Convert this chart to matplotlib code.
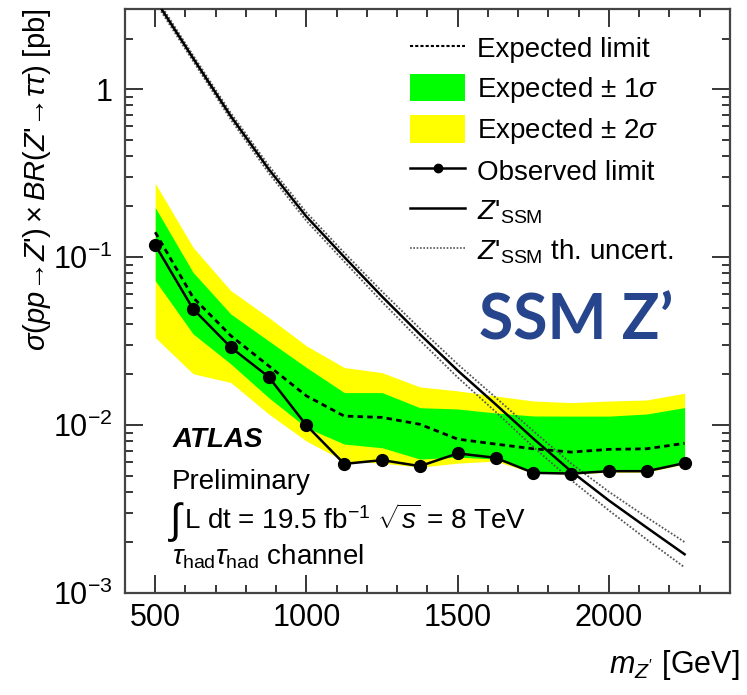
import matplotlib
matplotlib.use("Agg")
import matplotlib.pyplot as plt
from matplotlib.lines import Line2D
from matplotlib.patches import Patch
from matplotlib.ticker import FixedLocator, FixedFormatter, LogLocator, NullFormatter, MultipleLocator

plt.rcParams['font.family'] = ['Liberation Sans', 'DejaVu Sans']
plt.rcParams['mathtext.fontset'] = 'custom'
plt.rcParams['mathtext.rm'] = 'Liberation Sans'
plt.rcParams['mathtext.it'] = 'Liberation Sans:italic'
plt.rcParams['mathtext.bf'] = 'Liberation Sans:bold'

# Z' mass points (GeV)
mass = [500, 625, 750, 875, 1000, 1125, 1250, 1375, 1500, 1625, 1750, 1875, 2000, 2125, 2250]

observed = [0.118, 0.0491, 0.0290, 0.01935, 0.00995, 0.00587, 0.00618, 0.00569,
            0.00678, 0.00638, 0.00519, 0.00514, 0.00531, 0.00531, 0.00593]
expected = [0.1406, 0.0575, 0.0340, 0.0225, 0.0149, 0.0113, 0.0111, 0.0101,
            0.00824, 0.00770, 0.00722, 0.00690, 0.00716, 0.00722, 0.00778]
exp_p1 = [0.197, 0.0811, 0.0458, 0.0317, 0.0220, 0.0156, 0.0156, 0.01268,
          0.01246, 0.0118, 0.01132, 0.0113, 0.0113, 0.01163, 0.0127]
exp_m1 = [0.0724, 0.0349, 0.0231, 0.01456, 0.00964, 0.0077, 0.00732, 0.00627,
          0.00644, 0.00627, 0.00524, 0.00517, 0.00531, 0.00531, 0.00593]
exp_p2 = [0.275, 0.1144, 0.0631, 0.0437, 0.0296, 0.0220, 0.0205, 0.01686,
          0.01596, 0.0149, 0.0139, 0.0136, 0.0139, 0.0141, 0.01546]
exp_m2 = [0.0332, 0.0202, 0.0179, 0.01163, 0.00802, 0.0061, 0.00593, 0.00561,
          0.00593, 0.0061, 0.00517, 0.0051, 0.00524, 0.00524, 0.00585]

# SSM Z' theory cross section and its uncertainty
theory = [3.43, 1.53, 0.689, 0.334, 0.174, 0.100, 0.0582, 0.0347, 0.0211,
          0.0133, 0.0083, 0.0053, 0.00355, 0.00245, 0.0017]
theory_up = [3.57, 1.59, 0.72, 0.351, 0.184, 0.106, 0.0623, 0.0375, 0.0230,
             0.0146, 0.0092, 0.0059, 0.0040, 0.00282, 0.00201]
theory_dn = [3.29, 1.47, 0.658, 0.317, 0.164, 0.094, 0.0541, 0.0319, 0.0192,
             0.0120, 0.0074, 0.0047, 0.0031, 0.00208, 0.00142]

yticks = [1e-3, 1e-2, 1e-1, 1]
ytick_labels = ['$10^{-3}$', '$10^{-2}$', '$10^{-1}$', '1']
xticks = [500, 1000, 1500, 2000]

fig = plt.figure(figsize=(7.47, 6.95), dpi=100)
ax = fig.add_axes([0.1673, 0.1468, 0.8099, 0.8403])

ax.fill_between(mass, exp_m2, exp_p2, color='#ffff00', lw=0, zorder=1)
ax.fill_between(mass, exp_m1, exp_p1, color='#00ff00', lw=0, zorder=2)
ax.plot(mass, expected, color='black', ls=(0, (2, 1.5)), lw=2, zorder=3)
ax.plot(mass, theory_up, color='#555555', ls=(0, (1, 1)), lw=1.3, zorder=4)
ax.plot(mass, theory_dn, color='#555555', ls=(0, (1, 1)), lw=1.3, zorder=4)
ax.plot(mass, theory, color='black', lw=1.8, zorder=5)
ax.plot(mass, observed, color='black', lw=1.8, marker='o', ms=8.5, zorder=6)

ax.set_yscale('log')
ax.set_xlim(400, 2400)
ax.set_ylim(1e-3, 3)
ax.yaxis.set_major_locator(FixedLocator(yticks))
ax.yaxis.set_major_formatter(FixedFormatter(ytick_labels))
ax.yaxis.set_minor_locator(LogLocator(base=10, subs=range(2, 10)))
ax.yaxis.set_minor_formatter(NullFormatter())
ax.xaxis.set_major_locator(FixedLocator(xticks))
ax.xaxis.set_minor_locator(MultipleLocator(100))

ax.tick_params(which='both', direction='in', top=True, right=True, labelsize=22, width=1.1)
ax.tick_params(which='major', length=13)
ax.tick_params(which='minor', length=6)
ax.tick_params(axis='x', pad=7)
ax.tick_params(axis='y', pad=9)
for s in ax.spines.values():
    s.set_linewidth(1.6)
    s.set_color('#444444')

ax.set_ylabel(r"$\sigma(pp\!\rightarrow\!Z$'$)\times BR(Z$'$\!\rightarrow\!\tau\tau)$ [pb]",
              fontsize=21, loc='top')
ax.yaxis.set_label_coords(-0.119, 1.0)
fig.text(0.99, 1 - 665 / 695, r"$m_{Z'}$ [GeV]", fontsize=22, ha='right', va='center')

handles = [
    Line2D([], [], color='black', ls=(0, (1.5, 1)), lw=1.5),
    Patch(facecolor='#00ff00', edgecolor='none'),
    Patch(facecolor='#ffff00', edgecolor='none'),
    Line2D([], [], color='black', lw=1.8, marker='o', ms=6),
    Line2D([], [], color='black', lw=1.8),
    Line2D([], [], color='#555555', ls=(0, (1, 1)), lw=1.2),
]
labels = ['Expected limit', 'Expected ± 1$\\sigma$', 'Expected ± 2$\\sigma$',
          'Observed limit', "$Z$'${}_{\\mathrm{SSM}}$", "$Z$'${}_{\\mathrm{SSM}}$ th. uncert."]
ax.legend(handles, labels, loc='upper left', bbox_to_anchor=(0.471, 0.957), frameon=False,
          fontsize=20, borderpad=0, borderaxespad=0, handlelength=2.0, handleheight=1.15,
          handletextpad=0.4, labelspacing=0.37)

ax.text(0.078, 0.262, 'ATLAS', transform=ax.transAxes, fontsize=20, fontweight='bold',
        fontstyle='italic', va='center')
ax.text(0.078, 0.19, 'Preliminary', transform=ax.transAxes, fontsize=20, va='center')
ax.text(0.074, 0.122, '∫', transform=ax.transAxes, fontsize=30, va='center')
ax.text(0.097, 0.125, 'L dt = 19.5 fb$^{-1}$ $\\sqrt{s}$ = 8 TeV', transform=ax.transAxes,
        fontsize=20, va='center')
ax.text(0.078, 0.062, '$\\tau_{\\mathrm{had}}\\tau_{\\mathrm{had}}$ channel', transform=ax.transAxes,
        fontsize=20, va='center')

ax.text(0.745, 0.464, 'SSM Z’', transform=ax.transAxes, fontsize=45, fontweight='bold',
        family=['Lato', 'DejaVu Sans'], color='#27458c', ha='center', va='center')

fig.savefig('out.png', dpi=100)
